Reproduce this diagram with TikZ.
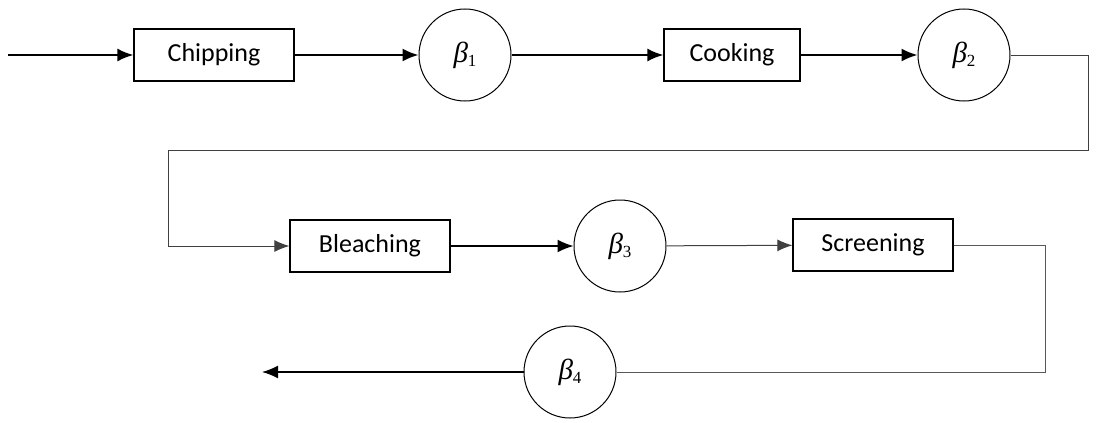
\documentclass[tikz,border=0pt]{standalone}
\usepackage{fontspec}
\setmainfont{Carlito}
\newfontfamily\betafont{Liberation Serif}
\newcommand{\bsym}[1]{{\betafont\itshape β}\raisebox{-0.35ex}{\betafont\fontsize{17}{17}\selectfont #1}}
\usetikzlibrary{arrows.meta}
\begin{document}
\begin{tikzpicture}[x=1pt,y=-1pt,
  box/.style={draw, line width=1.2pt, minimum width=160pt, minimum height=52pt, inner sep=0pt, font=\fontsize{26}{30}\selectfont},
  ring/.style={draw, circle, line width=1pt, minimum size=92pt, inner sep=0pt, font=\fontsize{29}{30}\selectfont},
  flow/.style={line width=1.9pt, -{Latex[length=16pt,width=13pt]}},
  midflow/.style={line width=1.5pt, -{Latex[length=16pt,width=13pt]}},
  thinflow/.style={line width=1pt, draw=black!75, -{Latex[length=15pt,width=12pt]}},
  thinline/.style={line width=1pt, draw=black!65}]
\useasboundingbox (0,0) rectangle (1104,423);
\node[box] (chip) at (214,55) {Chipping};
\node[ring] (b1) at (465,55) {\bsym{1}};
\node[box, minimum width=136pt] (cook) at (732,55) {Cooking};
\node[ring] (b2) at (964,55) {\bsym{2}};
\node[box] (bleach) at (370,246) {Bleaching};
\node[ring] (b3) at (620,246) {\bsym{3}};
\node[box] (scr) at (873,245) {Screening};
\node[ring] (b4) at (570,372) {\bsym{4}};
\coordinate (start) at (8,55);
\coordinate (r1) at (1088,150);
\coordinate (l1) at (168,150);
\coordinate (r2) at (1045,372);
\coordinate (stop) at (262,372);
\draw[flow] (start) -- (chip);
\draw[flow] (chip) -- (b1);
\draw[flow] (b1) -- (cook);
\draw[flow] (cook) -- (b2);
\draw[thinflow] (b2) -| (r1) -- (l1) |- (bleach);
\draw[midflow] (bleach) -- (b3);
\draw[thinflow] (b3) -- (scr);
\draw[thinline] (scr) -| (r2) -- (b4);
\draw[midflow] (b4) -- (stop);
\end{tikzpicture}
\end{document}
